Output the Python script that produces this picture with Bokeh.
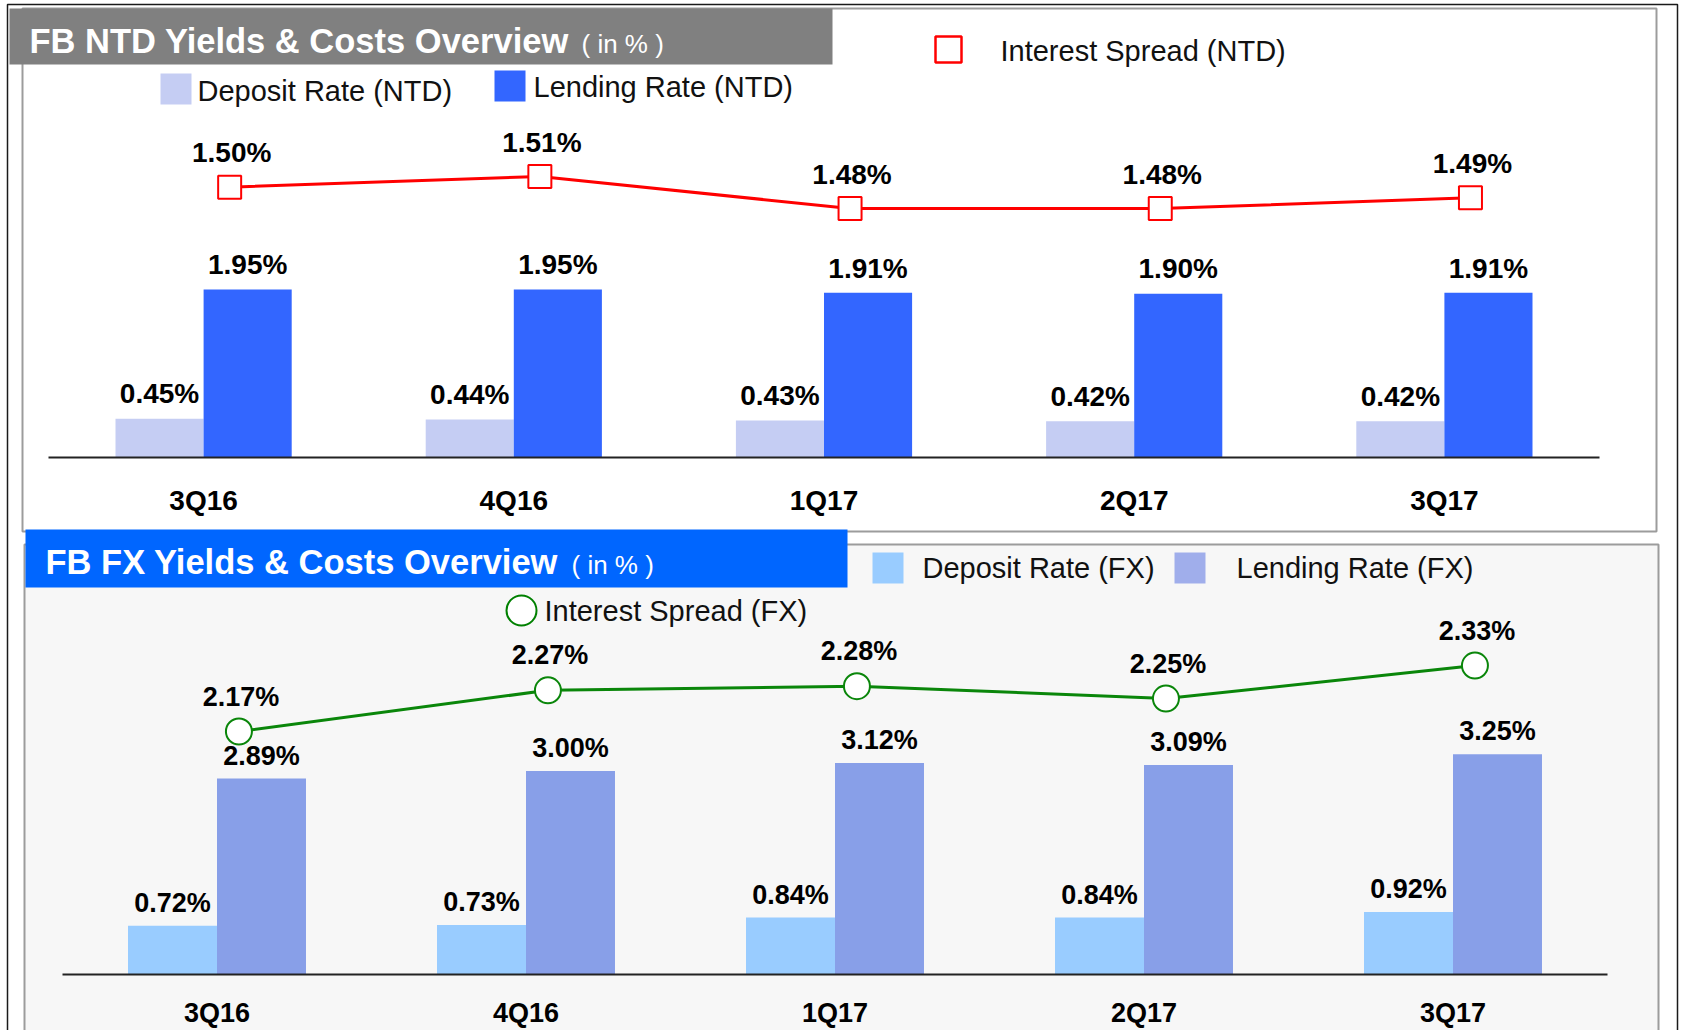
import numpy as np
from bokeh.plotting import figure
from bokeh.models import Range1d
from bokeh.core.properties import value
from bokeh.embed import file_html
from bokeh.resources import INLINE

# ---------------- data ----------------
quarters = ["3Q16", "4Q16", "1Q17", "2Q17", "3Q17"]
ntd_deposit = [0.45, 0.44, 0.43, 0.42, 0.42]
ntd_lending = [1.95, 1.95, 1.91, 1.90, 1.91]
ntd_spread = [1.50, 1.51, 1.48, 1.48, 1.49]
fx_deposit = [0.72, 0.73, 0.84, 0.84, 0.92]
fx_lending = [2.89, 3.00, 3.12, 3.09, 3.25]
fx_spread = [2.17, 2.27, 2.28, 2.25, 2.33]

# ---------------- layout ----------------
W, H = 1680, 1030
FONT = value("Liberation Sans")
K = 0.33  # baseline correction factor (em)


def tb(baseline, size):
    return baseline - K * size


def xr(center0, step):
    """category index range: index 0 at canvas px center0, step px per category"""
    return Range1d(-center0 / step, (W - center0) / step)


def yr(px0, v0, px_per):
    """value v0 sits at canvas px0 (from top), px_per pixels per unit"""
    return Range1d(v0 - (H - px0) / px_per, v0 + px0 / px_per)


p = figure(width=W, height=H, x_range=Range1d(0, W), y_range=Range1d(H, 0),
           x_axis_type=None, y_axis_type=None, toolbar_location=None,
           output_backend="svg", min_border=0, outline_line_color=None,
           background_fill_color="white", border_fill_color="white")
p.extra_x_ranges = {"xn": xr(203.1, 310.2), "xf": xr(216.5, 309.0)}
p.extra_y_ranges = {"yn": yr(457, 0.0, 86.2), "yns": yr(208, 1.48, 1067.0),
                    "yf": yr(974, 0.0, 67.8), "yfs": yr(731, 2.17, 412.0)}

# ---------------- panels / decoration ----------------
p.quad(left=[7], right=[1677], top=[4], bottom=[H + 20], fill_color=None,
       line_color="#1a1a1a", line_width=1.5)
p.quad(left=[22], right=[1656], top=[8], bottom=[531], fill_color="white",
       line_color="#9c9c9c", line_width=2)
p.quad(left=[9], right=[832], top=[8], bottom=[64], fill_color="#808080", line_color=None)
p.quad(left=[24], right=[1658], top=[544], bottom=[H + 20], fill_color="#F7F7F7",
       line_color="#9c9c9c", line_width=2)
p.quad(left=[25], right=[847], top=[529], bottom=[587], fill_color="#0066FF", line_color=None)

# titles
p.text(x=[29], y=[tb(52, 34.5)], text=["FB NTD Yields & Costs Overview"], text_color="white",
       text_font=FONT, text_font_style="bold", text_font_size="34.5px", text_baseline="alphabetic")
p.text(x=[581], y=[tb(52, 26)], text=["( in  % )"], text_color="white",
       text_font=FONT, text_font_size="26px", text_baseline="alphabetic")
p.text(x=[45], y=[tb(573, 34.5)], text=["FB FX Yields & Costs Overview"], text_color="white",
       text_font=FONT, text_font_style="bold", text_font_size="34.5px", text_baseline="alphabetic")
p.text(x=[571], y=[tb(573, 26)], text=["( in % )"], text_color="white",
       text_font=FONT, text_font_size="26px", text_baseline="alphabetic")

# legends (NTD)
p.quad(left=[160, 494], right=[191, 525], top=[73, 70], bottom=[104, 101],
       fill_color=["#C5CDF3", "#3366FF"], line_color=None)
p.text(x=[197, 533], y=[tb(100, 29), tb(96, 29)], text=["Deposit Rate  (NTD)", "Lending Rate (NTD)"],
       text_color="#111111", text_font=FONT, text_font_size="29px", text_baseline="alphabetic")
p.quad(left=[935], right=[961], top=[36], bottom=[62], fill_color="white",
       line_color="#FF0000", line_width=2.5)
p.text(x=[1000], y=[tb(60, 29)], text=["Interest Spread (NTD)"], text_color="#111111",
       text_font=FONT, text_font_size="29px", text_baseline="alphabetic")

# legends (FX)
p.quad(left=[872, 1174], right=[903, 1205], top=[552, 552], bottom=[583, 583],
       fill_color=["#99CCFF", "#A0AEEB"], line_color=None)
p.text(x=[922, 1236], y=[tb(577, 29), tb(577, 29)], text=["Deposit Rate (FX)", "Lending Rate (FX)"],
       text_color="#111111", text_font=FONT, text_font_size="29px", text_baseline="alphabetic")
p.scatter(x=[521], y=[610], marker="circle", size=30, fill_color="white",
          line_color="#008000", line_width=2)
p.text(x=[544], y=[tb(620, 29)], text=["Interest Spread (FX)"], text_color="#111111",
       text_font=FONT, text_font_size="29px", text_baseline="alphabetic")

idx = np.arange(len(quarters))


def pct(vals):
    return [f"{v:.2f}%" for v in vals]


def panel(xname, yname, sname, dep, lend, spread, dep_color, lend_color,
          line_color, marker, msize, bw, moff, size, lab_gap, spr_gap, cat_off):
    half = bw / 2
    corr = K * size
    kw = dict(x_range_name=xname, y_range_name=yname)
    p.vbar(x=idx - half, top=dep, bottom=0, width=bw, fill_color=dep_color, line_color=None, **kw)
    p.vbar(x=idx + half, top=lend, bottom=0, width=bw, fill_color=lend_color, line_color=None, **kw)
    p.line(x=[-0.5, len(quarters) - 0.5], y=[0, 0], line_color="#222222", line_width=2, **kw)
    tkw = dict(text_color="black", text_font=FONT, text_font_style="bold",
               text_font_size=f"{size}px", text_align="center", text_baseline="alphabetic")
    p.text(x=idx - half, y=dep, text=pct(dep), y_offset=-lab_gap - corr, **tkw, **kw)
    p.text(x=idx + half, y=lend, text=pct(lend), y_offset=-lab_gap - corr, **tkw, **kw)
    p.text(x=idx, y=[0] * len(quarters), text=quarters, y_offset=cat_off - corr, **tkw, **kw)
    skw = dict(x_range_name=xname, y_range_name=sname)
    p.line(x=idx + moff, y=spread, line_color=line_color, line_width=3, **skw)
    p.scatter(x=idx + moff, y=spread, marker=marker, size=msize, fill_color="white",
              line_color=line_color, line_width=2, **skw)
    p.text(x=idx + moff, y=spread, text=pct(spread), y_offset=-spr_gap - corr, x_offset=2,
           **tkw, **skw)


panel("xn", "yn", "yns", ntd_deposit, ntd_lending, ntd_spread, "#C5CDF3", "#3366FF",
      "#FF0000", "square", 23, 0.284, 0.084, 28, 15.5, 25, 52)
panel("xf", "yf", "yfs", fx_deposit, fx_lending, fx_spread, "#99CCFF", "#889FE8",
      "#0A860A", "circle", 26, 0.288, 0.071, 27, 14, 26, 47)

open("out.html", "w").write(file_html(p, INLINE))
